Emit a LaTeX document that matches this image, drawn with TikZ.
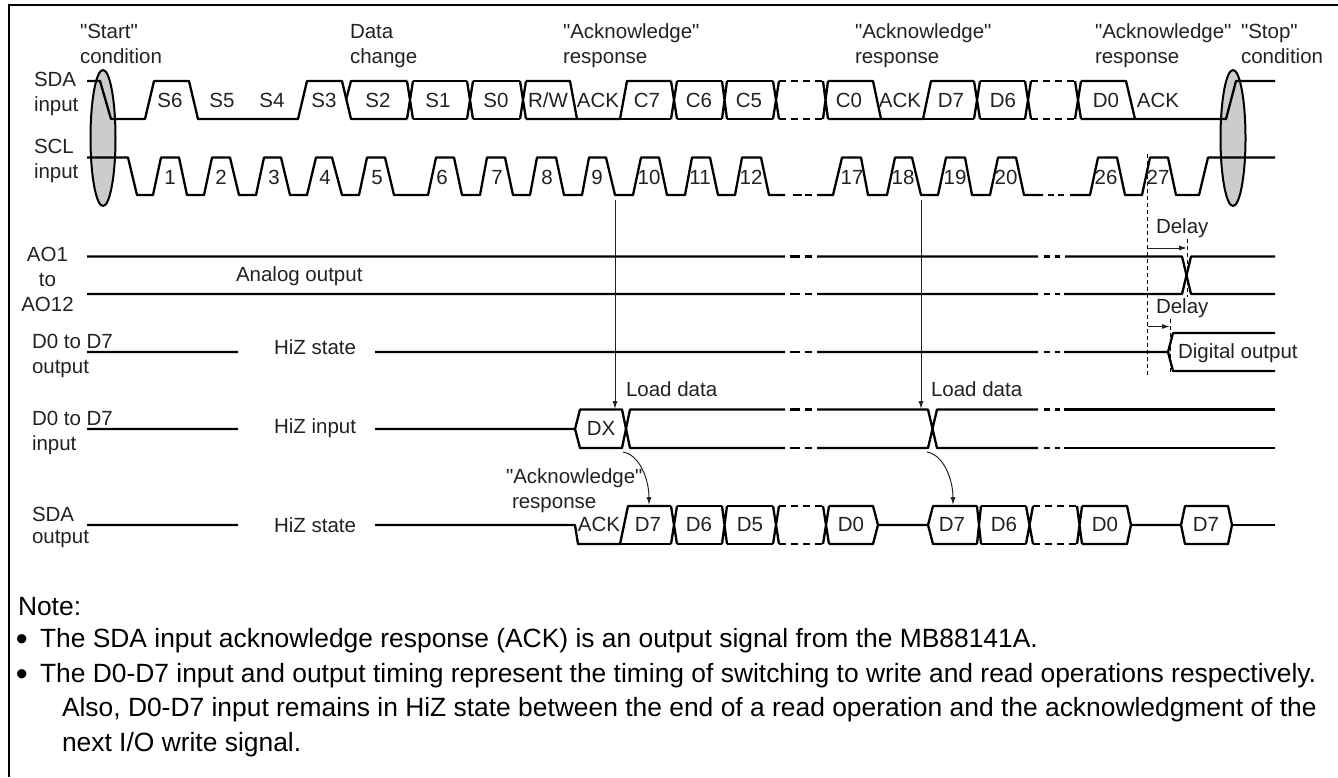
\documentclass[tikz,border=0pt]{standalone}
\usepackage{fontspec}
\setmainfont{Liberation Sans}
\newfontfamily\plainfam{Liberation Sans}
\usetikzlibrary{arrows.meta}
\definecolor{ink}{HTML}{222222}
\newcommand{\qq}{{\plainfam\symbol{34}}}
\tikzset{
  wave/.style={line width=2.3pt,black,line join=round},
  thinline/.style={line width=1pt,ink},
  tickline/.style={line width=1pt,black,dash pattern=on 4pt off 3pt},
  arr/.style={line width=1pt,ink,-{Latex[length=8pt,width=5pt]}},
  dbus/.style={wave,dash pattern=on 7pt off 5pt},
  cond/.style={line width=2pt,draw=black,fill=black!20},
  lab/.style={inner sep=0pt,outer sep=0pt,text=ink,font=\fontsize{20.5}{25}\selectfont,anchor=base west,align=left},
  cen/.style={inner sep=0pt,outer sep=0pt,text=ink,font=\fontsize{20.5}{25}\selectfont,anchor=base},
  note/.style={inner sep=0pt,outer sep=0pt,text=black,font=\fontsize{26.4}{34}\selectfont,anchor=base west},
  bul/.style={inner sep=0pt,outer sep=0pt,text=black,font=\fontsize{34}{34}\selectfont,anchor=base west},
}
\newcommand{\xing}[4]{\draw[wave] (#1,#3) -- (#2,#4) (#1,#4) -- (#2,#3);}
\newcommand{\breaks}[1]{%
  \draw[wave] (790,#1) -- (800,#1) (805,#1) -- (812,#1) (1044,#1) -- (1050,#1) (1055,#1) -- (1060,#1);}
\begin{document}
\begin{tikzpicture}[x=1pt,y=-1pt]
\useasboundingbox (0,0) rectangle (1338,777);
% frame
\draw[line width=2pt,black] (8.5,777) -- (8.5,5) -- (1338,5);
% condition ellipses
\draw[cond] (103,138) ellipse [x radius=12.5,y radius=68];
\draw[cond] (1233,138) ellipse [x radius=12.5,y radius=68];
% SDA input
\draw[wave] (87,81) -- (100,81) -- (111,119) -- (145,119) -- (154,81) -- (189,81) -- (198,119) -- (298,119) -- (307,81) -- (342,81) -- (351,119) -- (407,119);
\draw[wave] (346,100) -- (351,81) -- (407,81);
\foreach \a/\b in {407/413,467/473,520/526,671/677,722/727,773/779,823/828,974/980,1025/1031,1075/1081}
  {\xing{\a}{\b}{81}{119}}
\draw[wave] (413,81) -- (467,81) (413,119) -- (467,119) (473,81) -- (520,81) (473,119) -- (520,119);
\draw[wave] (526,81) -- (570,81) -- (577,119);
\draw[wave] (526,119) -- (620,119) -- (627,81) -- (671,81);
\draw[wave] (620,119) -- (671,119);
\draw[wave] (677,81) -- (722,81) (677,119) -- (722,119) (727,81) -- (773,81) (727,119) -- (773,119);
\draw[dbus] (779,81) -- (823,81) (779,119) -- (823,119);
\draw[wave] (828,81) -- (873,81) -- (881,119);
\draw[wave] (828,119) -- (923,119) -- (931,81) -- (974,81);
\draw[wave] (923,119) -- (974,119);
\draw[wave] (980,81) -- (1025,81) (980,119) -- (1025,119);
\draw[dbus] (1031,81) -- (1075,81) (1031,119) -- (1075,119);
\draw[wave] (1081,81) -- (1126,81) -- (1135,119);
\draw[wave] (1081,119) -- (1226,119) -- (1236,81) -- (1275,81);
% SCL input
\draw[wave] (87,157.5) -- (128,157.5) -- (137,195) -- (153,195) -- (161,157.5) -- (179,157.5) -- (187,195) -- (204,195) -- (212,157.5) -- (230,157.5) -- (239,195) -- (256,195) -- (264,157.5) -- (281,157.5) -- (290,195) -- (307,195) -- (316,157.5) -- (332,157.5) -- (342,195) -- (359,195) -- (367,157.5) -- (385,157.5) -- (394,195) -- (428,195) -- (436,157.5) -- (454,157.5) -- (462,195) -- (480,195) -- (487,157.5) -- (505,157.5) -- (513,195) -- (530,195) -- (537,157.5) -- (556,157.5) -- (564,195) -- (582,195) -- (589,157.5) -- (606,157.5) -- (615,195) -- (633,195) -- (641,157.5) -- (659,157.5) -- (667,195) -- (685,195) -- (692,157.5) -- (710,157.5) -- (718,195) -- (735,195) -- (742,157.5) -- (761,157.5) -- (769,195) -- (785,195);
\draw[wave] (793,195) -- (802,195) (805,195) -- (812,195);
\draw[wave] (817,195) -- (833,195) -- (842,157.5) -- (861,157.5) -- (868,195) -- (887,195) -- (895,157.5) -- (912,157.5) -- (921,195) -- (938,195) -- (946,157.5) -- (965,157.5) -- (972,195) -- (990,195) -- (998,157.5) -- (1016,157.5) -- (1024,195) -- (1043,195);
\draw[wave] (1048,195) -- (1054,195) (1058,195) -- (1064,195);
\draw[wave] (1070,195) -- (1090,195) -- (1098,157.5) -- (1117,157.5) -- (1125,195) -- (1142,195) -- (1150,157.5) -- (1168,157.5) -- (1176,195) -- (1199,195) -- (1208,157.5) -- (1275,157.5);
% AO
\draw[wave] (87,256.5) -- (785,256.5) (817,256.5) -- (1038,256.5) (1065,256.5) -- (1182,256.5) -- (1191,294) -- (1275,294);
\breaks{256.5}
\draw[wave] (87,294) -- (785,294) (817,294) -- (1038,294) (1064,294) -- (1182,294) -- (1191,256.5) -- (1275,256.5);
\breaks{294}
% D0-D7 output
\draw[wave] (87,352) -- (238,352) (375,352) -- (785,352) (817,352) -- (1038,352) (1064,352) -- (1168,352) -- (1173,333) -- (1275,333);
\draw[wave] (1168,352) -- (1173,371) -- (1275,371);
\breaks{352}
% D0-D7 input
\draw[wave] (87,429) -- (238,429) (375,429) -- (575,429) -- (580,409.5) -- (622,409.5) -- (630,448) -- (785,448);
\draw[wave] (575,429) -- (580,448) -- (622,448) -- (630,409.5) -- (785,409.5);
\draw[wave] (817,409.5) -- (928,409.5) -- (937,448) -- (1038,448) (817,448) -- (928,448) -- (937,409.5) -- (1038,409.5);
\draw[wave] (1064,409.5) -- (1275,409.5) (1064,448) -- (1275,448);
\breaks{409.5}
\breaks{448}
% SDA output
\draw[wave] (87,525) -- (238,525) (375,525) -- (575,525) -- (578,544) -- (620,544) -- (628,506) -- (671,506);
\draw[wave] (620,544) -- (671,544);
\foreach \a/\b in {671/677,722/727,773/779,823/829,977/981,1026/1033,1077/1082}
  {\xing{\a}{\b}{506}{544}}
\draw[wave] (677,506) -- (722,506) (677,544) -- (722,544) (727,506) -- (773,506) (727,544) -- (773,544);
\draw[dbus] (779,506) -- (823,506) (779,544) -- (823,544);
\draw[wave] (829,544) -- (873,544) -- (878,525) -- (873,506) -- (829,506);
\draw[wave] (878,525) -- (928,525) -- (933,506) -- (977,506);
\draw[wave] (928,525) -- (933,544) -- (977,544);
\draw[wave] (981,506) -- (1026,506) (981,544) -- (1026,544);
\draw[dbus] (1033,506) -- (1077,506) (1033,544) -- (1077,544);
\draw[wave] (1082,544) -- (1127,544) -- (1131,525) -- (1127,506) -- (1082,506);
\draw[wave] (1131,525) -- (1181,525) -- (1185,506) -- (1228,506) -- (1232,525) -- (1228,544) -- (1185,544) -- (1181,525);
\draw[wave] (1232,525) -- (1275,525);
% reference points
\coordinate (scl9) at (615,200);
\coordinate (scl18) at (921,200);
\coordinate (load1) at (615,409);
\coordinate (load2) at (921,409);
\coordinate (dx) at (623,452);
\coordinate (dx2) at (927,452);
\coordinate (d7a) at (649,505);
\coordinate (d7b) at (953,505);
\draw[arr] (scl9) -- (load1);
\draw[arr] (scl18) -- (load2);
\draw[arr] (dx) .. controls (640,455) and (649,480) .. (d7a);
\draw[arr] (dx2) .. controls (944,455) and (953,480) .. (d7b);
% delay
\coordinate (t0) at (1147.5,154);
\coordinate (t0b) at (1147.5,375);
\coordinate (t1) at (1187.5,239);
\coordinate (t1b) at (1187.5,297);
\coordinate (t2) at (1170,319);
\coordinate (t2b) at (1170,375);
\draw[tickline] (t0) -- (t0b);
\draw[tickline] (t1) -- (t1b);
\draw[tickline] (t2) -- (t2b);
\coordinate (a1) at (1147.5,248);
\coordinate (a1e) at (1187,248);
\coordinate (a2) at (1147.5,326.5);
\coordinate (a2e) at (1170,326.5);
\draw[arr] (a1) -- (a1e);
\draw[arr] (a2) -- (a2e);
% headings
\node[lab] (hstart) at (80,63) {\qq Start\qq\\condition};
\node[lab] (hdata) at (350,63) {Data\\change};
\node[lab] (hack1) at (563,63) {\qq Acknowledge\qq\\response};
\node[lab] (hack2) at (855,63) {\qq Acknowledge\qq\\response};
\node[lab] (hack3) at (1095,63) {\qq Acknowledge\qq\\response};
\node[lab] (hstop) at (1241,63) {\qq Stop\qq\\condition};
% signal names
\node[lab] (nsda) at (34,111) {SDA\\input};
\node[lab] (nscl) at (34,178) {SCL\\input};
\node[cen,align=center] (nao) at (47.5,311) {AO1\\to\\AO12};
\node[lab] (ndo) at (32,373) {D0 to D7\\output};
\node[lab] (ndi) at (32,450) {D0 to D7\\input};
\node[lab] (nsdo) at (32,543) {SDA\\[-3pt]output};
% state labels
\node[lab] (analog) at (236,281) {Analog output};
\node[lab] (hiz1) at (274,354) {HiZ state};
\node[lab] (hiz2) at (274,433) {HiZ input};
\node[lab] (hiz3) at (274,532) {HiZ state};
\node[lab] (load1t) at (626,396) {Load data};
\node[lab] (load2t) at (931,396) {Load data};
\node[lab] (delay1) at (1156,233) {Delay};
\node[lab] (delay2) at (1156,313) {Delay};
\node[lab] (digout) at (1178,358) {Digital output};
\node[lab] (ackresp) at (506,508) {\qq Acknowledge\qq\\\hspace*{6pt}response};
% bus texts
\foreach \x/\t in {170/S6,222/S5,272/S4,324/S3,378/S2,438/S1,496/S0,548/{R/W},598/ACK,647/C7,699/C6,749/C5,849/C0,900/ACK,951/D7,1003/D6,1106/D0,1158/ACK}
  \node[cen] (sda\x) at (\x,107) {\t};
\foreach \x/\t in {170/1,221/2,274/3,325/4,377/5,442/6,497/7,547/8,597/9,649/10,700/11,751/12,852/17,903/18,955/19,1006/20,1106/26,1158/27}
  \node[cen] (clk\t) at (\x,184) {\t};
\node[cen] (dxt) at (601,435) {DX};
\foreach \x/\t in {599/ACK,648/D7,699/D6,750/D5,851/D0,952/D7,1004/D6,1105/D0,1206/D7}
  \node[cen] (sdo\x) at (\x,531) {\t};
% notes
\node[note] (n0) at (18,615) {Note:};
\node[bul] (b1) at (16,650) {•};
\node[note] (n1) at (40,647) {The SDA input acknowledge response (ACK) is an output signal from the MB88141A.};
\node[bul] (b2) at (16,685) {•};
\node[note] (n2) at (40,682) {The D0-D7 input and output timing represent the timing of switching to write and read operations respectively.};
\node[note] (n3) at (62,716) {Also, D0-D7 input remains in HiZ state between the end of a read operation and the acknowledgment of the};
\node[note] (n4) at (62,751) {next I/O write signal.};
\end{tikzpicture}
\end{document}
